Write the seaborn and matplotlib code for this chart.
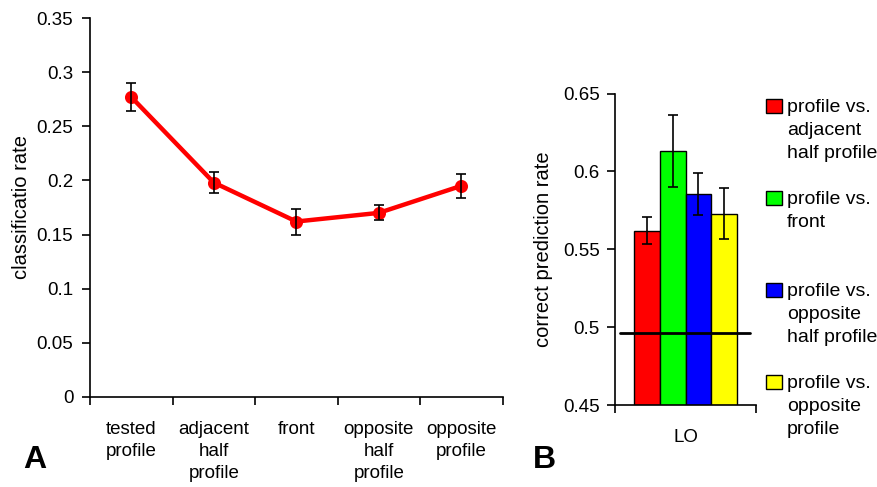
import matplotlib
matplotlib.use("Agg")
import matplotlib.pyplot as plt
import matplotlib.ticker as mticker
import numpy as np
import seaborn as sns

# ── Data ──────────────────────────────────────────────────────────────
views = ["tested\nprofile", "adjacent\nhalf\nprofile", "front",
         "opposite\nhalf\nprofile", "opposite\nprofile"]
class_rate = [0.277, 0.198, 0.162, 0.170, 0.195]
class_err = [0.0126, 0.010, 0.012, 0.007, 0.011]

region = ["LO", "LO", "LO", "LO"]
conditions = ["profile vs.\nadjacent\nhalf profile",
              "profile vs.\nfront\n",
              "profile vs.\nopposite\nhalf profile",
              "profile vs.\nopposite\nprofile"]
pred_rate = [0.562, 0.613, 0.5856, 0.573]
pred_err = [0.0085, 0.023, 0.0135, 0.0165]
chance_level = 0.4965

bar_colors = ["#ff0000", "#00ff00", "#0000ff", "#ffff00"]

# ── Theme ─────────────────────────────────────────────────────────────
sns.set_style("ticks")
plt.rcParams.update({
    "font.family": ["Liberation Sans", "DejaVu Sans"],
    "axes.linewidth": 1.2,
    "axes.edgecolor": "black",
    "axes.labelcolor": "black",
    "text.color": "black",
    "xtick.color": "black",
    "ytick.color": "black",
    "xtick.major.width": 1.2,
    "ytick.major.width": 1.2,
})

fig = plt.figure(figsize=(8.78, 4.87), dpi=100)
fig.patch.set_facecolor("white")

# ── Panel A ───────────────────────────────────────────────────────────
ax = fig.add_axes([0.1025, 0.185, 0.470, 0.778])
sns.pointplot(x=views, y=class_rate, color="#ff0000", errorbar=None,
              markers="o", markersize=7, linewidth=3.2, ax=ax)
ax.errorbar(np.arange(len(views)), class_rate, yerr=class_err, fmt="none",
            ecolor="black", elinewidth=1.2, capsize=3.5, capthick=1.2, zorder=5)

ax.set_xlim(-0.5, len(views) - 0.5)
ax.set_xticks(np.arange(-0.5, len(views), 1))
ax.set_xticklabels([])
ax.set_xticks(np.arange(len(views)), minor=True)
ax.set_xticklabels(views, minor=True, fontsize=13.5, linespacing=1.4)
ax.tick_params(axis="x", which="major", length=6, direction="out")
ax.tick_params(axis="x", which="minor", length=0, pad=17)

ax.set_ylim(0, 0.35)
ax.set_yticks(np.arange(0, 0.351, 0.05))
ax.yaxis.set_major_formatter(mticker.FuncFormatter(lambda v, _: f"{v:g}"))
ax.tick_params(axis="y", length=6, direction="out", labelsize=13.5, pad=6)
ax.set_ylabel("classificatio rate", fontsize=14.5, labelpad=4)
ax.set_xlabel("")
sns.despine(ax=ax)

# ── Panel B ───────────────────────────────────────────────────────────
axb = fig.add_axes([0.7005, 0.168, 0.1606, 0.640])
sns.barplot(x=region, y=pred_rate, hue=conditions, palette=bar_colors,
            saturation=1, errorbar=None, width=0.73, edgecolor="black",
            linewidth=1, legend=False, ax=axb)
bars = axb.patches[:len(conditions)]
centers = [p.get_x() + p.get_width() / 2 for p in bars]
axb.errorbar(centers, pred_rate, yerr=pred_err, fmt="none", ecolor="black",
             elinewidth=1.2, capsize=3.5, capthick=1.2, zorder=5)
axb.axhline(chance_level, xmin=0.035, xmax=0.956, color="black", lw=2, zorder=6)

axb.set_xlim(-0.5, 0.5)
axb.set_xticks([-0.5, 0.5])
axb.set_xticklabels([])
axb.set_xticks([0], minor=True)
axb.set_xticklabels(["LO"], minor=True, fontsize=13.5)
axb.tick_params(axis="x", which="major", length=6, direction="out")
axb.tick_params(axis="x", which="minor", length=0, pad=17)

axb.set_ylim(0.45, 0.65)
axb.set_yticks(np.arange(0.45, 0.651, 0.05))
axb.yaxis.set_major_formatter(mticker.FuncFormatter(lambda v, _: f"{v:g}"))
axb.tick_params(axis="y", length=6, direction="out", labelsize=13.5, pad=5)
axb.set_ylabel("correct prediction rate", fontsize=14.5, labelpad=7)
axb.set_xlabel("")
sns.despine(ax=axb)

leg = axb.legend(bars, conditions, loc="upper left",
                 bbox_to_anchor=(0.873, 0.796), bbox_transform=fig.transFigure,
                 frameon=False, fontsize=14, borderpad=0, borderaxespad=0,
                 handlelength=0.8, handleheight=0.7, handletextpad=0.25,
                 labelspacing=1.5)
for t in leg.get_texts():
    t.set_linespacing(1.45)
for col in leg._legend_handle_box.get_children():
    for item in col.get_children():
        item.align = "top"

# panel letters
fig.text(0.026, 0.038, "A", fontsize=23, fontweight="bold")
fig.text(0.607, 0.038, "B", fontsize=23, fontweight="bold")

fig.savefig("out.png", dpi=100, facecolor="white")
plt.close(fig)
